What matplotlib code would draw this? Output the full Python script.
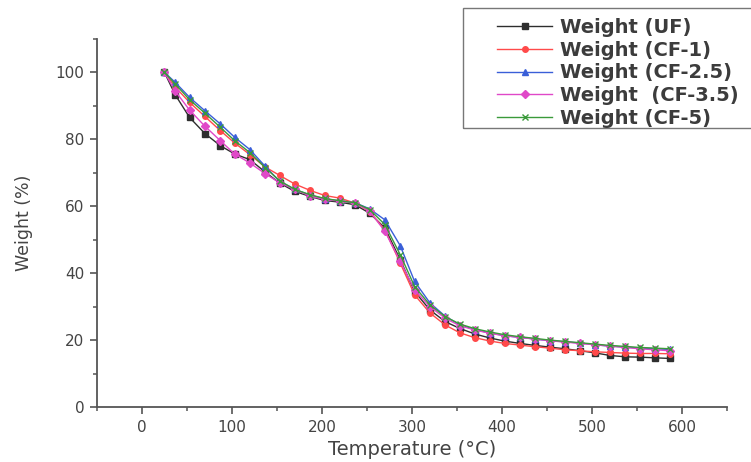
import matplotlib.pyplot as plt
from matplotlib.patches import Rectangle
from matplotlib.ticker import MultipleLocator

plt.rcParams['font.family'] = ['DejaVu Sans']

# Temperature (C) for every sample point
temps = [25, 37, 53, 70, 87, 103, 120, 137, 153, 170, 187, 203, 220, 237, 253,
         270, 287, 303, 320, 337, 353, 370, 387, 403, 420, 437, 453, 470, 487,
         503, 520, 537, 553, 570, 587]

w_uf = [100, 93.3, 86.5, 81.7, 78.1, 75.6, 73.9, 70.2, 66.9, 64.4, 62.9, 61.7,
        61.2, 60.4, 57.9, 53.5, 44.0, 34.5, 29.0, 25.5, 23.5, 21.8, 20.6, 19.7,
        19.0, 18.4, 17.9, 17.4, 16.8, 16.2, 15.4, 15.0, 14.9, 14.7, 14.5]
w_cf1 = [100, 95.6, 91.0, 86.8, 82.6, 78.9, 75.4, 71.7, 69.2, 66.6, 64.7, 63.2,
         62.4, 60.9, 58.4, 52.9, 43.0, 33.5, 28.1, 24.5, 22.2, 20.7, 19.7, 19.0,
         18.5, 18.0, 17.6, 17.1, 16.8, 16.5, 16.3, 16.1, 16.0, 16.0, 15.9]
w_cf25 = [100, 97.0, 92.5, 88.5, 84.6, 80.6, 76.9, 71.9, 67.4, 65.0, 63.3, 62.2,
          61.6, 61.0, 59.2, 55.9, 48.2, 37.5, 31.1, 27.1, 24.6, 23.1, 22.1, 21.3,
          20.8, 20.3, 19.8, 19.5, 19.1, 18.6, 18.2, 17.9, 17.6, 17.4, 17.2]
w_cf35 = [100, 94.4, 88.7, 83.9, 79.6, 75.6, 72.9, 69.7, 67.0, 65.0, 63.0, 62.0,
          61.5, 61.0, 58.5, 52.5, 43.5, 35.0, 30.0, 26.5, 24.3, 23.0, 22.0, 21.3,
          20.8, 20.3, 19.8, 19.4, 19.0, 18.6, 18.2, 17.8, 17.4, 17.1, 16.8]
w_cf5 = [100, 96.5, 91.8, 87.8, 83.6, 79.6, 76.0, 71.5, 67.6, 65.0, 63.4, 62.3,
         61.6, 61.0, 59.0, 54.5, 45.5, 36.0, 30.5, 27.0, 24.8, 23.4, 22.4, 21.6,
         21.0, 20.5, 20.0, 19.6, 19.2, 18.8, 18.4, 18.1, 17.8, 17.6, 17.4]

series = [
    ('Weight (UF)', w_uf, '#2e2e2e', 's'),
    ('Weight (CF-1)', w_cf1, '#ff4a4a', 'o'),
    ('Weight (CF-2.5)', w_cf25, '#3a5fd8', '^'),
    ('Weight  (CF-3.5)', w_cf35, '#e048c8', 'D'),
    ('Weight (CF-5)', w_cf5, '#3a9a3a', 'x'),
]

fig = plt.figure(figsize=(7.51, 4.62), dpi=100)
ax = fig.add_axes([0.129, 0.119, 0.839, 0.797])

for label, vals, col, mk in series:
    ax.plot(temps, vals, color=col, marker=mk, markersize=4, linewidth=1,
            label=label)

ax.set_xlim(-50, 650)
ax.set_ylim(0, 110)
ax.xaxis.set_major_locator(MultipleLocator(100))
ax.xaxis.set_minor_locator(MultipleLocator(50))
ax.yaxis.set_major_locator(MultipleLocator(20))
ax.yaxis.set_minor_locator(MultipleLocator(10))
ax.set_xticks(range(0, 601, 100))

for s in ['top', 'right']:
    ax.spines[s].set_visible(False)
for s in ['left', 'bottom']:
    ax.spines[s].set_color('#555555')
    ax.spines[s].set_linewidth(1.3)

ax.tick_params(which='major', length=5, width=1.2, color='#555555',
               labelsize=11, labelcolor='#444444', pad=4)
ax.tick_params(which='minor', length=3, width=1.1, color='#555555')

ax.set_xlabel('Temperature (\u00b0C)', fontsize=14, color='#444444', labelpad=4)
ax.set_ylabel('Weight (%)', fontsize=12.5, color='#444444', labelpad=16)

# legend box runs off the right edge like in the scanned figure
fig.patches.append(Rectangle((463 / 751, 1 - 128 / 462), 320 / 751, 120 / 462,
                             transform=fig.transFigure, fill=False,
                             edgecolor='#777777', linewidth=1.0))
leg = fig.legend(loc='upper left', bbox_to_anchor=(497 / 751, 1 - 18 / 462),
                 borderaxespad=0, borderpad=0, frameon=False,
                 prop={'size': 14, 'weight': 'bold'}, handlelength=2.85,
                 labelspacing=0.19, handletextpad=0.4)
for t in leg.get_texts():
    t.set_color('#3c3c3c')

fig.savefig('out.png', dpi=100)
